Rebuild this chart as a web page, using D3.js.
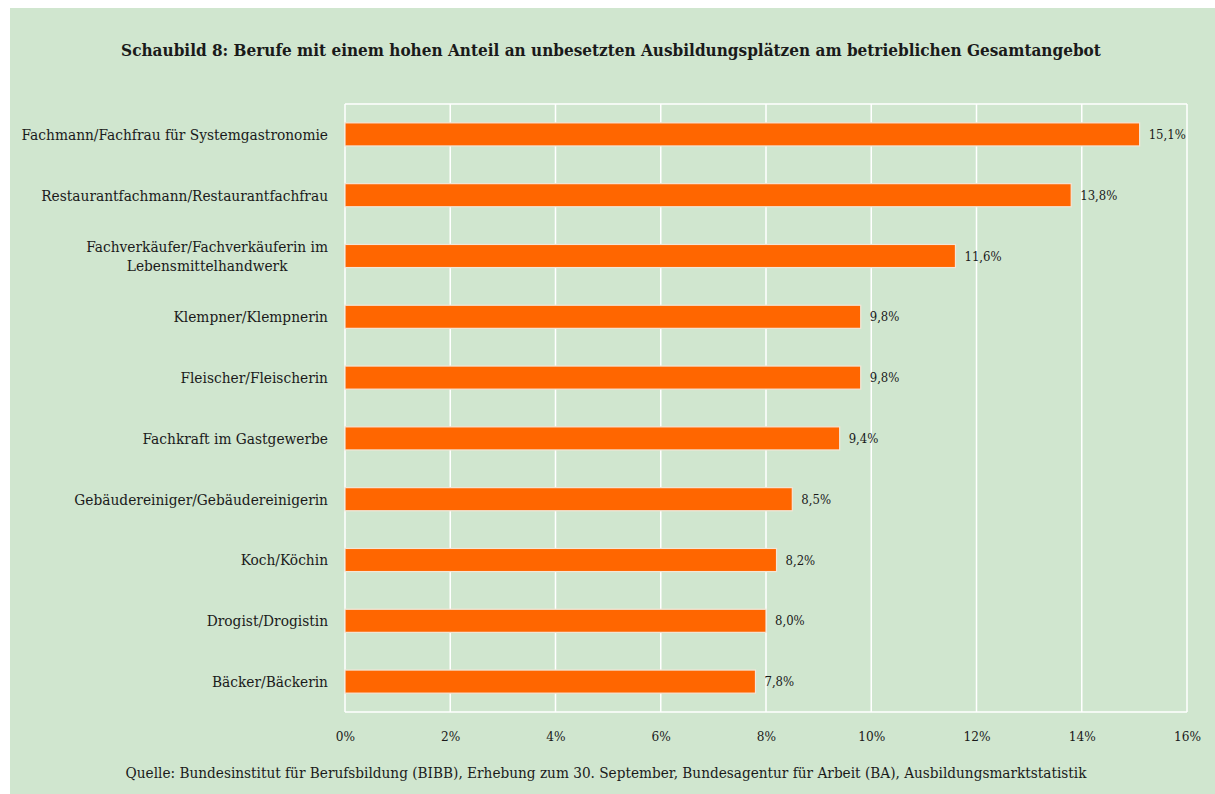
<!DOCTYPE html>
<html>
<head>
<meta charset="utf-8">
<script src="https://cdn.jsdelivr.net/npm/d3@7"></script>
<style>
  body { margin: 0; background: #fff; }
  svg text { fill: #1a1a1a; }
</style>
</head>
<body>
<div id="chart"></div>
<script>
const categories = [
  "Fachmann/Fachfrau für Systemgastronomie",
  "Restaurantfachmann/Restaurantfachfrau",
  "Fachverkäufer/Fachverkäuferin im|Lebensmittelhandwerk",
  "Klempner/Klempnerin",
  "Fleischer/Fleischerin",
  "Fachkraft im Gastgewerbe",
  "Gebäudereiniger/Gebäudereinigerin",
  "Koch/Köchin",
  "Drogist/Drogistin",
  "Bäcker/Bäckerin"
];
const values = [15.1, 13.8, 11.6, 9.8, 9.8, 9.4, 8.5, 8.2, 8.0, 7.8];
const ticks = [0, 2, 4, 6, 8, 10, 12, 14, 16];

const title = "Schaubild 8: Berufe mit einem hohen Anteil an unbesetzten Ausbildungsplätzen am betrieblichen Gesamtangebot";
const source = "Quelle: Bundesinstitut für Berufsbildung (BIBB), Erhebung zum 30. September, Bundesagentur für Arbeit (BA), Ausbildungsmarktstatistik";

const W = 1215, H = 794;
const margin = { top: 104, right: 28, bottom: 82, left: 345 };
const width = W - margin.left - margin.right;
const height = H - margin.top - margin.bottom;

const font = "'DejaVu Serif Condensed', 'DejaVu Serif', serif";

const svg = d3.select("#chart").append("svg")
  .attr("width", W)
  .attr("height", H);

// panel background
svg.append("rect")
  .attr("x", 10).attr("y", 8)
  .attr("width", W - 10).attr("height", H - 8)
  .attr("fill", "#d0e6cf");

svg.append("text")
  .attr("x", 611).attr("y", 56)
  .attr("text-anchor", "middle")
  .style("font-family", font)
  .style("font-weight", "bold")
  .style("font-size", "17px")
  .text(title);

const g = svg.append("g")
  .attr("transform", `translate(${margin.left},${margin.top})`);

const x = d3.scaleLinear().domain([0, 16]).range([0, width]);
const y = d3.scaleBand().domain(categories).range([0, height]).paddingInner(0.62).paddingOuter(0.31);

// grid
g.selectAll(".grid")
  .data(ticks)
  .enter().append("line")
  .attr("x1", d => x(d)).attr("x2", d => x(d))
  .attr("y1", 0).attr("y2", height)
  .attr("stroke", "#fff")
  .attr("stroke-width", 1.5);

g.append("line")
  .attr("x1", 0).attr("x2", width)
  .attr("y1", 0).attr("y2", 0)
  .attr("stroke", "#fff").attr("stroke-width", 1.5);
g.append("line")
  .attr("x1", 0).attr("x2", width)
  .attr("y1", height).attr("y2", height)
  .attr("stroke", "#fff").attr("stroke-width", 1.5);

// x axis labels
const xAxis = g.append("g")
  .attr("transform", `translate(0,${height})`)
  .call(d3.axisBottom(x).tickValues(ticks).tickFormat(d => d + "%").tickSize(0).tickPadding(19));
xAxis.select(".domain").remove();
xAxis.selectAll("text")
  .style("font-family", font)
  .style("font-size", "13.5px")
  .attr("fill", "#1a1a1a");

// bars
g.selectAll(".bar")
  .data(values)
  .enter().append("rect")
  .attr("x", 0)
  .attr("y", (d, i) => y(categories[i]))
  .attr("width", d => x(d))
  .attr("height", y.bandwidth())
  .attr("fill", "#ff6600")
  .attr("stroke", "#f3e6d8")
  .attr("stroke-width", 1.2);

// value labels
g.selectAll(".val")
  .data(values)
  .enter().append("text")
  .attr("x", d => x(d) + 9)
  .attr("y", (d, i) => y(categories[i]) + y.bandwidth() / 2)
  .attr("dy", "0.35em")
  .style("font-family", font)
  .style("font-size", "13px")
  .text(d => d.toFixed(1).replace(".", ",") + "%");

// category labels (multi-line labels are centred as a block, right-aligned)
const labels = g.selectAll(".cat")
  .data(categories)
  .enter().append("text")
  .attr("y", d => y(d) + y.bandwidth() / 2)
  .style("font-family", font)
  .style("font-size", "15.3px");

labels.each(function (d) {
  const lines = d.split("|");
  const t = d3.select(this);
  if (lines.length === 1) {
    t.attr("text-anchor", "end")
      .append("tspan").attr("x", -17).attr("dy", "0.35em").text(d);
    return;
  }
  const spans = lines.map((line, i) => t.append("tspan")
    .attr("dy", i === 0 ? (0.35 - (lines.length - 1) * 0.6) + "em" : "1.2em")
    .text(line));
  const maxW = d3.max(spans, s => s.node().getComputedTextLength());
  t.attr("text-anchor", "middle");
  spans.forEach(s => s.attr("x", -17 - maxW / 2));
});

svg.append("text")
  .attr("x", 606).attr("y", 778)
  .attr("text-anchor", "middle")
  .style("font-family", font)
  .style("font-size", "15.2px")
  .text(source);
</script>
</body>
</html>
